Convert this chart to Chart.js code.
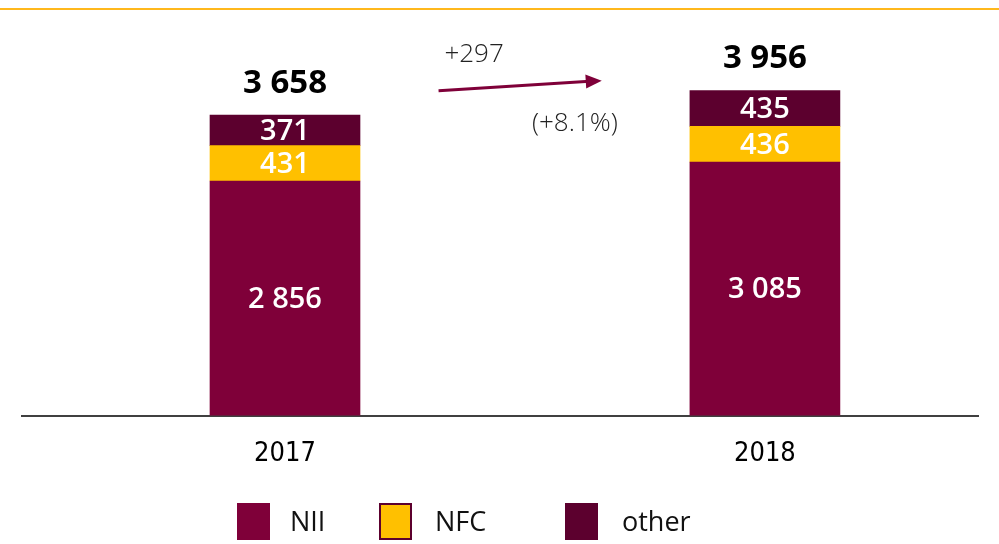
<!DOCTYPE html>
<html>
<head>
<meta charset="utf-8">
<title>Revenue 2017-2018</title>
<script src="https://cdn.jsdelivr.net/npm/chart.js@4.4.1/dist/chart.umd.min.js"></script>
<style>
  html, body { margin: 0; padding: 0; background: #fff; }
  #wrap { position: relative; width: 999px; height: 544px; }
</style>
</head>
<body>
<div id="wrap"><canvas id="revenueChart"></canvas></div>
<script>
// Revenue split per year
const years = [2017, 2018];
const nii = [2856, 3085];
const nfc = [431, 436];
const other = [371, 435];
const seriesNames = ['NII', 'NFC', 'other'];
const growthAbs = '+297';
const growthPct = '(+8.1%)';

const COLORS = {
    nii: '#7f0039',
    nfc: '#ffc000',
    other: '#5c002e',
    frame: '#ffb81c',
    axis: '#404040'
};

const totals = years.map((_, i) => nii[i] + nfc[i] + other[i]);

// 3658 -> "3 658"
function fmt(v) {
    return String(v).replace(/\B(?=(\d{3})+(?!\d))/g, ' ');
}

function points(values) {
    return years.map((yr, i) => ({ x: yr, y: values[i] }));
}

// Thin orange rule across the top of the slide
const topRule = {
    id: 'topRule',
    beforeDraw(chart) {
        const ctx = chart.ctx;
        ctx.save();
        ctx.strokeStyle = COLORS.frame;
        ctx.lineWidth = 2;
        ctx.beginPath();
        ctx.moveTo(0, 9);
        ctx.lineTo(chart.width, 9);
        ctx.stroke();
        ctx.restore();
    }
};

// Segment values inside the bars and totals above them
const barLabels = {
    id: 'barLabels',
    afterDatasetsDraw(chart) {
        const ctx = chart.ctx;
        const yScale = chart.scales.y;
        ctx.save();
        ctx.textAlign = 'center';
        ctx.textBaseline = 'middle';
        ctx.fillStyle = '#fff';
        ctx.font = '600 29px "Open Sans", "Noto Sans", sans-serif';
        chart.data.datasets.forEach((ds, d) => {
            chart.getDatasetMeta(d).data.forEach((bar, i) => {
                ctx.fillText(fmt(ds.data[i].y), bar.x, (bar.y + bar.base) / 2 + 1);
            });
        });
        ctx.fillStyle = '#000';
        ctx.font = '700 33px "Open Sans", "Noto Sans", sans-serif';
        const top = chart.getDatasetMeta(0).data;
        totals.forEach((t, i) => {
            ctx.fillText(fmt(t), top[i].x, yScale.getPixelForValue(t) - 32);
        });
        ctx.restore();
    }
};

// Growth arrow between the two bars
const growthArrow = {
    id: 'growthArrow',
    afterDatasetsDraw(chart) {
        const { ctx, scales: { x, y } } = chart;
        const x0 = x.getPixelForValue(2017.32), y0 = y.getPixelForValue(3956);
        const x1 = x.getPixelForValue(2017.66), y1 = y.getPixelForValue(4078);
        const ang = Math.atan2(y1 - y0, x1 - x0);
        ctx.save();
        ctx.strokeStyle = COLORS.nii;
        ctx.fillStyle = COLORS.nii;
        ctx.lineWidth = 3;
        ctx.beginPath();
        ctx.moveTo(x0, y0);
        ctx.lineTo(x1 - 12 * Math.cos(ang), y1 - 12 * Math.sin(ang));
        ctx.stroke();
        ctx.translate(x1, y1);
        ctx.rotate(ang);
        ctx.beginPath();
        ctx.moveTo(0, 0);
        ctx.lineTo(-16, -7);
        ctx.lineTo(-16, 7);
        ctx.closePath();
        ctx.fill();
        ctx.restore();

        ctx.save();
        ctx.fillStyle = '#222';
        ctx.font = '300 26px "Open Sans", "Lato", sans-serif';
        ctx.textAlign = 'center';
        ctx.textBaseline = 'middle';
        ctx.fillText(growthAbs, x.getPixelForValue(2017.394), y.getPixelForValue(4393));
        ctx.fillText(growthPct, x.getPixelForValue(2017.604), y.getPixelForValue(3556));
        ctx.restore();
    }
};

// Legend row under the axis
const legendRow = {
    id: 'legendRow',
    afterDraw(chart, args, opts) {
        const ctx = chart.ctx;
        ctx.save();
        ctx.font = '27px "Open Sans", "Noto Sans", sans-serif';
        ctx.textBaseline = 'middle';
        chart.data.datasets.forEach((ds, i) => {
            const bx = opts.boxes[i];
            const top = opts.top;
            ctx.fillStyle = ds.backgroundColor;
            ctx.fillRect(bx, top, 33, 37);
            if (i === 1) {
                ctx.strokeStyle = COLORS.other;
                ctx.lineWidth = 2;
                ctx.strokeRect(bx + 1, top + 1, 31, 35);
            }
            ctx.fillStyle = '#111';
            ctx.fillText(ds.label, opts.texts[i], top + 20);
        });
        ctx.restore();
    }
};

const ctx = document.getElementById('revenueChart').getContext('2d');
new Chart(ctx, {
    type: 'bar',
    data: {
        datasets: [
            { label: seriesNames[0], data: points(nii), backgroundColor: COLORS.nii },
            { label: seriesNames[1], data: points(nfc), backgroundColor: COLORS.nfc },
            { label: seriesNames[2], data: points(other), backgroundColor: COLORS.other }
        ]
    },
    options: {
        responsive: true,
        maintainAspectRatio: false,
        animation: false,
        barThickness: 150,
        layout: {
            padding: { top: 9, left: 22, right: 21, bottom: 52 }
        },
        plugins: {
            legend: { display: false },
            tooltip: { enabled: false },
            legendRow: {
                top: 503,
                boxes: [237, 379, 565],
                texts: [290, 435, 622]
            }
        },
        scales: {
            x: {
                type: 'linear',
                stacked: true,
                offset: false,
                bounds: 'ticks',
                min: 2016.452,
                max: 2018.444,
                afterBuildTicks: (scale) => {
                    scale.ticks = years.map(v => ({ value: v }));
                },
                ticks: {
                    callback: (v) => String(v),
                    color: '#000',
                    padding: 22,
                    font: { family: '"Liberation Sans Narrow", "DejaVu Sans Condensed", sans-serif', size: 27 }
                },
                grid: { display: false, drawTicks: false },
                border: { display: true, color: COLORS.axis, width: 2 }
            },
            y: {
                stacked: true,
                display: false,
                min: 0,
                max: 4950
            }
        }
    },
    plugins: [topRule, barLabels, growthArrow, legendRow]
});
</script>
</body>
</html>
